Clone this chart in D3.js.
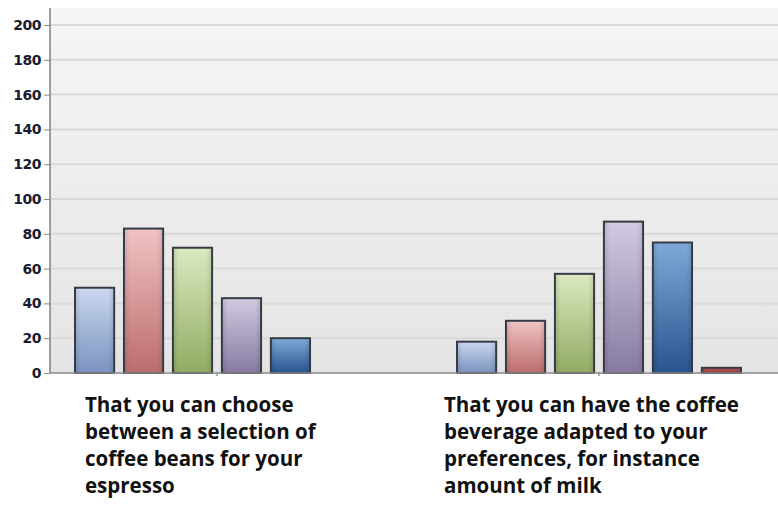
<!DOCTYPE html>
<html>
<head>
<meta charset="utf-8">
<script src="https://cdn.jsdelivr.net/npm/d3@7"></script>
<style>
  html, body { margin: 0; padding: 0; background: #ffffff; }
  svg { display: block; }
</style>
</head>
<body>
<svg id="chart" width="778" height="509"></svg>
<script>
// Survey questions (x categories)
const categories = [
  "That you can choose between a selection of coffee beans for your espresso",
  "That you can have the coffee beverage adapted to your preferences, for instance amount of milk"
];
// Wrapped label lines for each category
const categoryLines = [
  ["That you can choose", "between a selection of", "coffee beans for your", "espresso"],
  ["That you can have the coffee", "beverage adapted to your", "preferences, for instance", "amount of milk"]
];
// Six answer series
const seriesNames = ["s1", "s2", "s3", "s4", "s5", "s6"];
const series1 = [49, 18];
const series2 = [83, 30];
const series3 = [72, 57];
const series4 = [43, 87];
const series5 = [20, 75];
const series6 = [0, 3];
const seriesValues = [series1, series2, series3, series4, series5, series6];
const yTicks = [0, 20, 40, 60, 80, 100, 120, 140, 160, 180, 200];

// Gradient colours per series (top, bottom)
const palette = [
  ["#cbd8ef", "#7a93bf"],
  ["#f0c3c3", "#bd6c6c"],
  ["#dbe9c0", "#92ab63"],
  ["#d3c9e2", "#877aa1"],
  ["#7eaad9", "#28538e"],
  ["#c0595b", "#993a3c"]
];

const W = 778, H = 509;
const plot = { left: 50, right: 778, top: 8, bottom: 373 };

const svg = d3.select("#chart");
const defs = svg.append("defs");

// Plot background gradient
const bg = defs.append("linearGradient").attr("id", "bg")
  .attr("x1", 0).attr("y1", 0).attr("x2", 0).attr("y2", 1);
bg.append("stop").attr("offset", "0%").attr("stop-color", "#f5f5f5");
bg.append("stop").attr("offset", "100%").attr("stop-color", "#e4e4e4");

palette.forEach((c, i) => {
  const g = defs.append("linearGradient").attr("id", "bar" + i)
    .attr("x1", 0).attr("y1", 0).attr("x2", 0).attr("y2", 1);
  g.append("stop").attr("offset", "0%").attr("stop-color", c[0]);
  g.append("stop").attr("offset", "100%").attr("stop-color", c[1]);
  // subtle side shading
  const s = defs.append("linearGradient").attr("id", "side" + i)
    .attr("x1", 0).attr("y1", 0).attr("x2", 1).attr("y2", 0);
  s.append("stop").attr("offset", "0%").attr("stop-color", "#000").attr("stop-opacity", 0.12);
  s.append("stop").attr("offset", "15%").attr("stop-color", "#000").attr("stop-opacity", 0);
  s.append("stop").attr("offset", "85%").attr("stop-color", "#000").attr("stop-opacity", 0);
  s.append("stop").attr("offset", "100%").attr("stop-color", "#000").attr("stop-opacity", 0.12);
});

const y = d3.scaleLinear().domain([0, 200]).range([plot.bottom, 25]);
const x0 = d3.scaleBand().domain(categories).range([26, 790]).padding(0);
const x1 = d3.scaleBand().domain(seriesNames)
  .range([49, x0.bandwidth() - 49]).paddingInner(0.2).paddingOuter(0);

svg.append("rect")
  .attr("x", plot.left).attr("y", plot.top)
  .attr("width", plot.right - plot.left).attr("height", plot.bottom - plot.top)
  .attr("fill", "url(#bg)");

// Gridlines
svg.append("g").selectAll("line").data(yTicks.filter(d => d > 0)).join("line")
  .attr("x1", plot.left).attr("x2", plot.right)
  .attr("y1", d => y(d)).attr("y2", d => y(d))
  .attr("stroke", "#d9d9d9").attr("stroke-width", 2);

// Bars
const groups = svg.append("g").selectAll("g").data(categories).join("g")
  .attr("transform", d => `translate(${x0(d)},0)`);

groups.each(function (cat, ci) {
  const g = d3.select(this);
  const data = seriesNames.map((s, si) => ({ s, si, v: seriesValues[si][ci] }))
    .filter(d => d.v > 0);
  g.selectAll("rect.bar").data(data).join("rect").attr("class", "bar")
    .attr("x", d => x1(d.s)).attr("width", x1.bandwidth())
    .attr("y", d => y(d.v)).attr("height", d => y(0) - y(d.v))
    .attr("fill", d => `url(#bar${d.si})`);
  g.selectAll("rect.side").data(data).join("rect").attr("class", "side")
    .attr("x", d => x1(d.s)).attr("width", x1.bandwidth())
    .attr("y", d => y(d.v)).attr("height", d => y(0) - y(d.v))
    .attr("fill", d => `url(#side${d.si})`)
    .attr("stroke", "#363b45").attr("stroke-width", 2);
});

// Y axis
const yAxis = d3.axisLeft(y).tickValues(yTicks).tickSize(6).tickPadding(3);
const ya = svg.append("g").attr("transform", `translate(${plot.left},0)`).call(yAxis);
ya.select(".domain").remove();
ya.selectAll(".tick line").attr("stroke", "#8a8a8a");
ya.selectAll(".tick text")
  .attr("font-family", "DejaVu Sans, sans-serif")
  .attr("font-weight", "bold").attr("font-size", 14)
  .attr("letter-spacing", -0.5)
  .attr("fill", "#1a1a30");
svg.append("line")
  .attr("x1", plot.left).attr("x2", plot.left)
  .attr("y1", plot.top).attr("y2", plot.bottom)
  .attr("stroke", "#808080").attr("stroke-width", 1.5);

// X axis
const xAxis = d3.axisBottom(x0).tickSize(3).tickFormat("");
const xa = svg.append("g").attr("transform", `translate(0,${plot.bottom})`).call(xAxis);
xa.select(".domain").remove();
xa.selectAll(".tick line").attr("stroke", "#666");
svg.append("line")
  .attr("x1", plot.left).attr("x2", plot.right)
  .attr("y1", plot.bottom).attr("y2", plot.bottom)
  .attr("stroke", "#8a8a8a").attr("stroke-width", 1.5);

// Category labels
const labelX = [85, 444];
categoryLines.forEach((lines, i) => {
  const t = svg.append("text")
    .attr("x", labelX[i]).attr("y", 412)
    .attr("font-family", "'Open Sans', Lato, sans-serif")
    .attr("font-weight", "bold").attr("font-size", 20.5)
    .attr("fill", "#111");
  lines.forEach((ln, j) => {
    t.append("tspan").attr("x", labelX[i]).attr("dy", j === 0 ? 0 : 27).text(ln);
  });
});
</script>
</body>
</html>
